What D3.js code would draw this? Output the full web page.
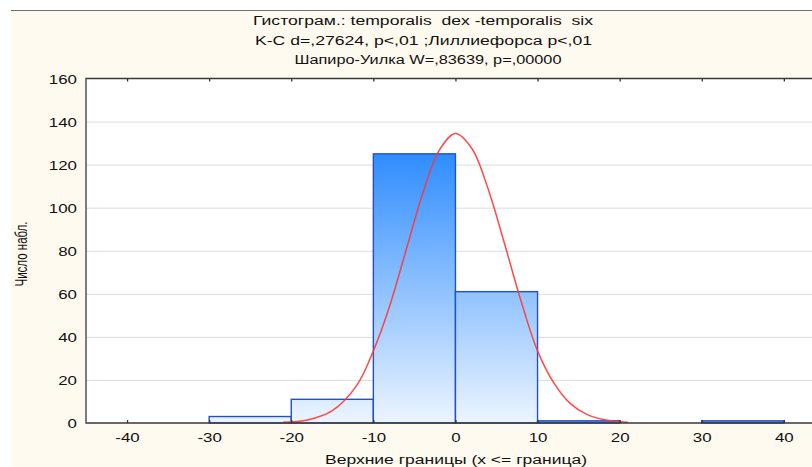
<!DOCTYPE html>
<html><head><meta charset="utf-8">
<script src="https://cdn.jsdelivr.net/npm/d3@7"></script>
<style>body{margin:0;background:#fff}svg{display:block;font-family:"Liberation Sans",Arial,sans-serif}text{white-space:pre}</style>
</head><body><svg width="812" height="467"></svg>
<script>
// ---- data ----
const binLower = [-30, -20, -10, 0, 10, 20, 30];
const binUpper = [-20, -10, 0, 10, 20, 30, 40];
const counts   = [3, 11, 125, 61, 1, 0, 1];
// expected-normal curve
const curveX = [-21, -18, -15, -12, -10, -8, -6, -4, -2, 0, 2, 4, 6, 8, 10, 12, 14, 16, 18, 21];
const curveY = [0.3, 1.4, 5.7, 17.6, 33.5, 54.5, 80.5, 106.5, 126.5, 134.5, 127.5, 108.5, 83, 56.5, 33.5, 18.5, 9, 4, 1.6, 0.3];
const xTicks = [-40, -30, -20, -10, 0, 10, 20, 30, 40];
const yTicks = [0, 20, 40, 60, 80, 100, 120, 140, 160];
const titleLines = [
  "Гистограм.: temporalis  dex -temporalis  six",
  "K-C d=,27624, p<,01 ;Лиллиефорса p<,01",
  "Шапиро-Уилка W=,83639, p=,00000"
];
const xTitle = "Верхние границы (x <= граница)";
const yTitle = "Число набл.";

// ---- layout ----
const SX = 1.3;
const svg = d3.select("svg");
const pLeft = 86, pTop = 78.5, pBottom = 423;
const x = d3.scaleLinear().domain([-45, 45]).range([86, 86 + 90 * 8.21]);
const y = d3.scaleLinear().domain([0, 160]).range([pBottom, pTop]);

// backgrounds
svg.append("rect").attr("x", 11).attr("y", 10).attr("width", 812).attr("height", 467).attr("fill", "#fffaef");
svg.append("line").attr("x1", 11).attr("x2", 812).attr("y1", 10.5).attr("y2", 10.5).attr("stroke", "#707070").attr("stroke-width", 1);
svg.append("rect").attr("x", pLeft).attr("y", pTop).attr("width", 812 - pLeft).attr("height", pBottom - pTop).attr("fill", "#fff");

// gridlines
svg.append("g").selectAll("line").data(yTicks.filter(d => d > 0 && d < 160)).join("line")
  .attr("x1", pLeft).attr("x2", 812).attr("y1", d => y(d) + 0.5).attr("y2", d => y(d) + 0.5)
  .attr("stroke", "#dcdcdc").attr("stroke-width", 1);

// gradient
const defs = svg.append("defs");
const grad = defs.append("linearGradient").attr("id", "bg").attr("gradientUnits", "userSpaceOnUse")
  .attr("x1", 0).attr("x2", 0).attr("y1", y(125)).attr("y2", y(0));
grad.append("stop").attr("offset", 0).attr("stop-color", "#2f8dff");
grad.append("stop").attr("offset", 1).attr("stop-color", "#ecf5ff");

// bars
const bars = binLower.map((l, i) => ({l, u: binUpper[i], c: counts[i]})).filter(d => d.c > 0);
svg.append("g").selectAll("rect").data(bars).join("rect")
  .attr("x", d => x(d.l)).attr("width", d => x(d.u) - x(d.l))
  .attr("y", d => y(d.c)).attr("height", d => y(0) - y(d.c))
  .attr("fill", d => d.c < 2 ? "#6f93e0" : "url(#bg)")
  .attr("stroke", "#2050cc").attr("stroke-width", 1.4);

// normal curve
const pts = curveX.map((v, i) => [v, curveY[i]]);
svg.append("path").datum(pts)
  .attr("d", d3.line().x(d => x(d[0])).y(d => y(d[1])).curve(d3.curveCatmullRom))
  .attr("fill", "none").attr("stroke", "#ff3535").attr("stroke-width", 1.5).attr("stroke-opacity", 0.9);

// frame
svg.append("path").attr("d", `M812,${pTop}H${pLeft}V${pBottom}H812`).attr("fill", "none").attr("stroke", "#3a3a3a").attr("stroke-width", 1.3);

const fmt = d => String(d);

// x axis (bottom)
const xAxis = svg.append("g").attr("transform", `translate(0,${pBottom})`)
  .call(d3.axisBottom(x).tickValues(xTicks).tickSize(-3).tickPadding(0).tickFormat(fmt));
xAxis.select(".domain").remove();
xAxis.selectAll(".tick line").attr("stroke", "#333").attr("stroke-width", 1.3);
xAxis.selectAll(".tick text").attr("y", 19).attr("dy", null).attr("transform", `scale(${SX},1)`)
  .attr("font-size", 13).attr("fill", "#111").attr("font-family", "Liberation Sans, Arial, sans-serif");

// top ticks
const xTop = svg.append("g").attr("transform", `translate(0,${pTop})`)
  .call(d3.axisTop(x).tickValues(xTicks).tickSize(-3).tickFormat(""));
xTop.select(".domain").remove();
xTop.selectAll(".tick line").attr("stroke", "#333").attr("stroke-width", 1.3);

// y axis
const yAxis = svg.append("g").attr("transform", `translate(${pLeft},0)`)
  .call(d3.axisLeft(y).tickValues(yTicks).tickSize(0).tickPadding(0).tickFormat(fmt));
yAxis.select(".domain").remove();
yAxis.selectAll(".tick text").attr("x", -9 / SX).attr("dy", "0.36em").attr("transform", `scale(${SX},1)`)
  .attr("font-size", 13).attr("fill", "#111").attr("font-family", "Liberation Sans, Arial, sans-serif");

// titles
const titleX = [423, 423.5, 428];
const titleW = [340, 337, 267];
const titleY = [25, 45, 63.5];
titleLines.forEach((t, i) => {
  svg.append("text").attr("x", titleX[i]).attr("y", titleY[i]).attr("text-anchor", "middle")
    .attr("xml:space", "preserve")
    .attr("font-size", 12.5).attr("fill", "#111").attr("textLength", titleW[i]).attr("lengthAdjust", "spacingAndGlyphs").text(t);
});
svg.append("text").attr("x", 456).attr("y", 463.5).attr("text-anchor", "middle")
  .attr("font-size", 12.5).attr("fill", "#111").attr("textLength", 262).attr("lengthAdjust", "spacingAndGlyphs").text(xTitle);
svg.append("text").attr("transform", `translate(27,254) scale(${SX},1) rotate(-90)`)
  .attr("text-anchor", "middle").attr("font-size", 12).attr("fill", "#111")
  .attr("textLength", 65).attr("lengthAdjust", "spacingAndGlyphs").text(yTitle);
</script></body></html>
